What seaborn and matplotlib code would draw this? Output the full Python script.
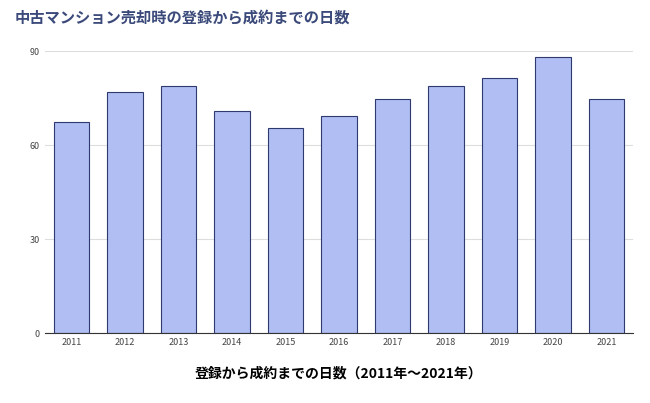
import matplotlib
matplotlib.use("Agg")
import matplotlib.pyplot as plt
import seaborn as sns
import pandas as pd

years = ["2011","2012","2013","2014","2015","2016","2017","2018","2019","2020","2021"]
days = [67.3, 77.0, 79.0, 71.0, 65.4, 69.3, 74.7, 79.0, 81.5, 88.2, 74.7]
yticks = [0, 30, 60, 90]

plt.rcParams["font.family"] = "Noto Sans CJK JP"
df = pd.DataFrame({"year": years, "days": days})
fig = plt.figure(figsize=(6.5, 4.03), dpi=100)
ax = fig.add_axes([0.069, 0.173, 0.905, 0.70])
sns.barplot(data=df, x="year", y="days", ax=ax, color="#b1bef3", edgecolor="#2e3a6e",
            linewidth=0.8, width=0.66, saturation=1)
ax.set_ylim(0, 90)
ax.set_yticks(yticks)
ax.tick_params(axis="both", length=0, labelsize=6.5, colors="#444444")
ax.grid(axis="y", color="#dddddd", linewidth=0.8)
ax.set_axisbelow(True)
for s in ["top", "right", "left"]:
    ax.spines[s].set_visible(False)
ax.spines["bottom"].set_color("#333333")
ax.set_ylabel("")
ax.set_xlabel("登録から成約までの日数（2011年～2021年）", fontsize=10, fontweight="bold", labelpad=14)
fig.text(0.023, 0.945, "中古マンション売却時の登録から成約までの日数", fontsize=11,
         fontweight="bold", color="#3b4a7a")
fig.savefig("out.png", dpi=100)
